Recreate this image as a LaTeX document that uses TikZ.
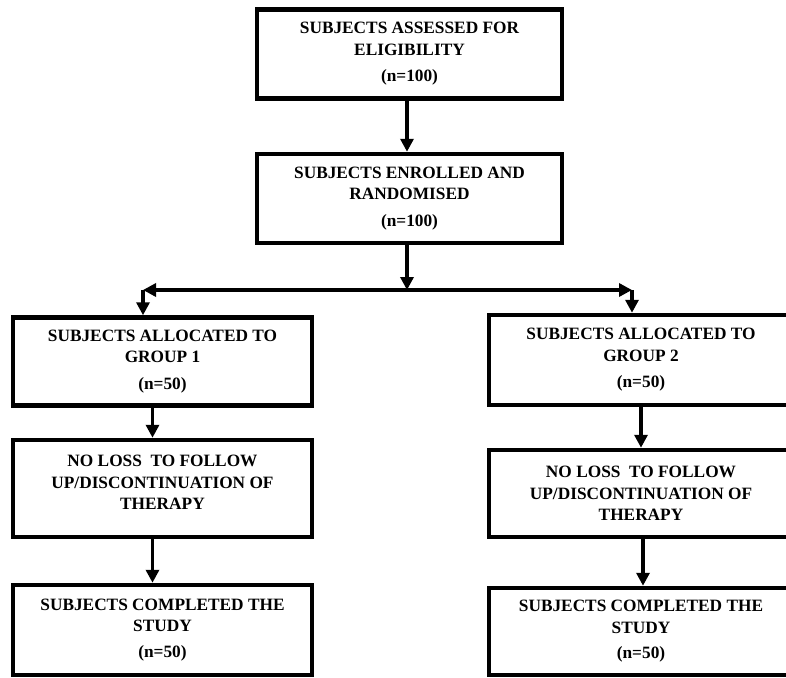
\documentclass[tikz,border=0pt]{standalone}
\usepackage{fontspec}
\setmainfont{Liberation Serif}
\usetikzlibrary{arrows.meta}
\begin{document}
\begin{tikzpicture}[x=1pt,y=-1pt,
  box/.style={draw, line width=4.5pt, rectangle, align=center,
    font=\fontsize{17.3}{21.5}\selectfont\bfseries, inner sep=0pt},
  arr/.style={line width=3.5pt, -{Triangle[length=13pt,width=13pt]}}]
\useasboundingbox (0,0) rectangle (786,677);
\clip (0,0) rectangle (786,677);
% top boxes
\node[box, minimum width=305pt, minimum height=89pt] (b1) at (409.5,54)
  {SUBJECTS ASSESSED FOR\\ELIGIBILITY\\[5pt](n=100)};
\node[box, minimum width=305pt, minimum height=89pt] (b2) at (409.5,198.5)
  {SUBJECTS ENROLLED AND\\RANDOMISED\\[5pt](n=100)};
% left column
\node[box, minimum width=299pt, minimum height=88pt] (b3) at (162.5,361.5)
  {SUBJECTS ALLOCATED TO\\GROUP 1\\[5pt](n=50)};
\node[box, minimum width=299pt, minimum height=97pt, text depth=12pt] (b5) at (162.5,488.5)
  {NO LOSS\ \ TO FOLLOW\\UP/DISCONTINUATION OF\\THERAPY};
\node[box, minimum width=299pt, minimum height=90pt] (b7) at (162.5,630)
  {SUBJECTS COMPLETED THE\\STUDY\\[4pt](n=50)};
% right column
\node[box, minimum width=304pt, minimum height=90pt] (b4) at (641,360)
  {SUBJECTS ALLOCATED TO\\GROUP 2\\[5pt](n=50)};
\node[box, minimum width=304pt, minimum height=87pt] (b6) at (641,493.5)
  {NO LOSS\ \ TO FOLLOW\\UP/DISCONTINUATION OF\\THERAPY};
\node[box, minimum width=304pt, minimum height=87pt] (b8) at (641,631.5)
  {SUBJECTS COMPLETED THE\\STUDY\\[4pt](n=50)};
% junction coordinates
\coordinate (j) at (407,290);
\coordinate (l) at (143,290);
\coordinate (r) at (632,290);
% connectors
\draw[arr] ([xshift=-2.5pt]b1.south) -- ([xshift=-2.5pt]b2.north);
\draw[arr] ([xshift=-2.5pt]b2.south) -- (j);
\draw[arr] (j) -- (l);
\draw[arr] (j) -- (r);
\draw[arr] (l) -- (l |- b3.north);
\draw[arr] (r) -- (r |- b4.north);
\draw[arr] ([xshift=-10pt]b3.south) -- ([xshift=-10pt]b5.north);
\draw[arr] ([xshift=-10pt]b5.south) -- ([xshift=-10pt]b7.north);
\draw[arr] (b4.south) -- (b6.north);
\draw[arr] ([xshift=2pt]b6.south) -- ([xshift=2pt]b8.north);
\end{tikzpicture}
\end{document}
